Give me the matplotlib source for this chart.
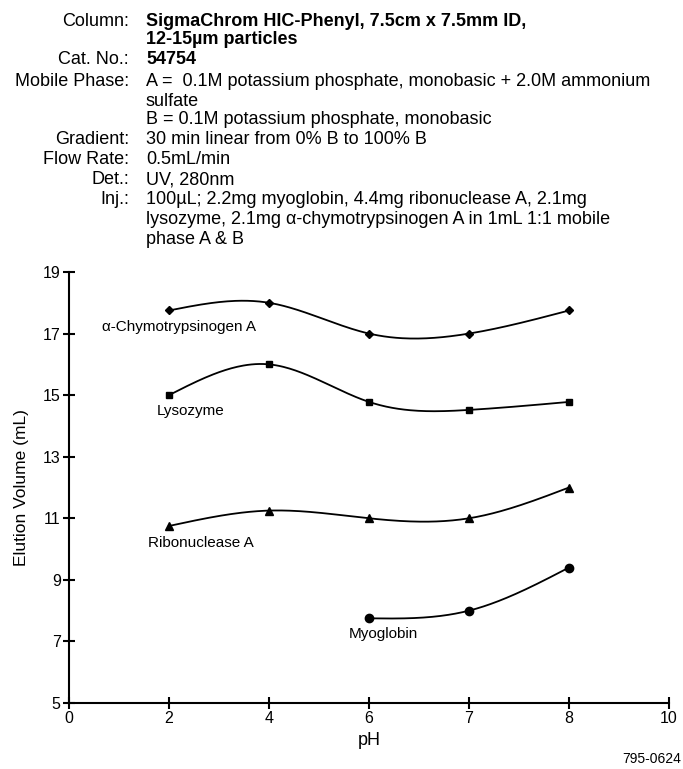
import numpy as np
import matplotlib
matplotlib.use("Agg")
import matplotlib.pyplot as plt

plt.rcParams['font.family'] = ['Liberation Sans', 'DejaVu Sans']

# x axis is drawn with evenly spaced pH ticks
ph_ticks = [0, 2, 4, 6, 7, 8, 10]

chymo_ph = [2, 4, 6, 7, 8]
chymo_vol = [17.75, 18.0, 17.0, 17.0, 17.75]

lyso_ph = [2, 4, 6, 7, 8]
lyso_vol = [15.0, 16.0, 14.78, 14.52, 14.78]

ribo_ph = [2, 4, 6, 7, 8]
ribo_vol = [10.75, 11.25, 11.0, 11.0, 12.0]

myo_ph = [6, 7, 8]
myo_vol = [7.75, 8.0, 9.4]

header = [
    ("Column:", "SigmaChrom HIC-Phenyl, 7.5cm x 7.5mm ID,", True),
    ("", "12-15µm particles", True),
    ("Cat. No.:", "54754", True),
    ("Mobile Phase:", "A =  0.1M potassium phosphate, monobasic + 2.0M ammonium", False),
    ("", "sulfate", False),
    ("", "B = 0.1M potassium phosphate, monobasic", False),
    ("Gradient:", "30 min linear from 0% B to 100% B", False),
    ("Flow Rate:", "0.5mL/min", False),
    ("Det.:", "UV, 280nm", False),
    ("Inj.:", "100µL; 2.2mg myoglobin, 4.4mg ribonuclease A, 2.1mg", False),
    ("", "lysozyme, 2.1mg α-chymotrypsinogen A in 1mL 1:1 mobile", False),
    ("", "phase A & B", False),
]


def natural_spline(x, y, n=200):
    x = np.asarray(x, float)
    y = np.asarray(y, float)
    m = len(x)
    h = np.diff(x)
    A = np.zeros((m, m))
    b = np.zeros(m)
    A[0, 0] = 1
    A[-1, -1] = 1
    for i in range(1, m - 1):
        A[i, i - 1] = h[i - 1]
        A[i, i] = 2 * (h[i - 1] + h[i])
        A[i, i + 1] = h[i]
        b[i] = 3 * ((y[i + 1] - y[i]) / h[i] - (y[i] - y[i - 1]) / h[i - 1])
    c = np.linalg.solve(A, b)
    xs = np.linspace(x[0], x[-1], n)
    ys = np.empty_like(xs)
    for k, xv in enumerate(xs):
        i = min(np.searchsorted(x, xv, side='right') - 1, m - 2)
        bb = (y[i + 1] - y[i]) / h[i] - h[i] * (2 * c[i] + c[i + 1]) / 3
        d = (c[i + 1] - c[i]) / (3 * h[i])
        t = xv - x[i]
        ys[k] = y[i] + bb * t + c[i] * t ** 2 + d * t ** 3
    return xs, ys


fig = plt.figure(figsize=(6.83, 7.69), dpi=100)
W, H = 683, 769

# header block
ys_px = [22, 40, 60, 81, 101, 120, 139, 160, 180, 200, 220, 239]
for (key, val, bold), ypx in zip(header, ys_px):
    if key:
        fig.text(129 / W, 1 - ypx / H, key, ha='right', va='center', fontsize=13)
    fig.text(146 / W, 1 - ypx / H, val, ha='left', va='center', fontsize=13,
             fontweight='bold' if bold else 'normal')

ax = fig.add_axes([69 / W, 1 - 703 / H, 600 / W, 431 / H])

series = [
    (chymo_ph, chymo_vol, 'D', 4.5),
    (lyso_ph, lyso_vol, 's', 5),
    (ribo_ph, ribo_vol, '^', 6),
    (myo_ph, myo_vol, 'o', 6),
]
for ph, vol, marker, ms in series:
    xi = [ph_ticks.index(p) for p in ph]
    sx, sy = natural_spline(xi, vol)
    ax.plot(sx, sy, color='black', linewidth=1.3)
    ax.plot(xi, vol, linestyle='none', marker=marker, markersize=ms, color='black')

ax.text(0.33, 17.2, "α-Chymotrypsinogen A", ha='left', va='center', fontsize=11)
ax.text(0.88, 14.47, "Lysozyme", ha='left', va='center', fontsize=11)
ax.text(0.79, 10.2, "Ribonuclease A", ha='left', va='center', fontsize=11)
ax.text(2.8, 7.25, "Myoglobin", ha='left', va='center', fontsize=11)

ax.set_xlim(0, len(ph_ticks) - 1)
ax.set_ylim(5, 19)
ax.set_xticks(range(len(ph_ticks)))
ax.set_xticklabels([str(p) for p in ph_ticks])
ax.set_yticks([5, 7, 9, 11, 13, 15, 17, 19])
ax.tick_params(direction='inout', length=8, width=1.5, labelsize=11.5, pad=2)
ax.spines['top'].set_visible(False)
ax.spines['right'].set_visible(False)
ax.spines['left'].set_linewidth(1.5)
ax.spines['bottom'].set_linewidth(1.5)
ax.set_xlabel("pH", fontsize=13, labelpad=4)
ax.set_ylabel("Elution Volume (mL)", fontsize=12.5, labelpad=10)

fig.text(681 / W, 1 - 759 / H, "795-0624", ha='right', va='center', fontsize=10)

fig.savefig("out.png", dpi=100)
